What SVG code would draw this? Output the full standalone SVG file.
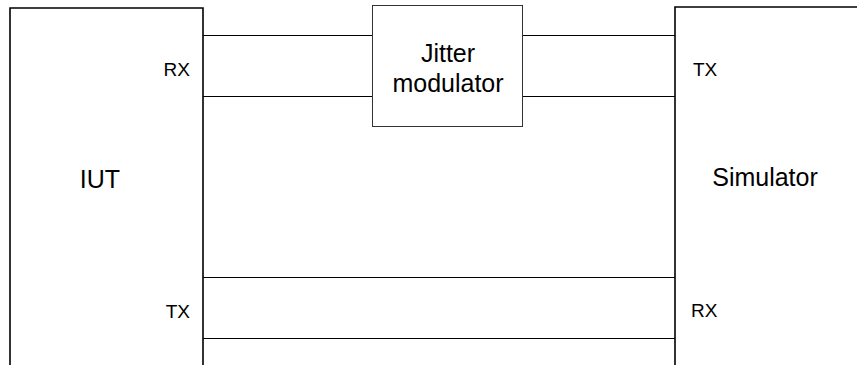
<svg xmlns="http://www.w3.org/2000/svg" width="857" height="365" viewBox="0 0 857 365">
<style>
.box{fill:#fff;stroke:#000;stroke-width:1.6}
.jbox{fill:#fff;stroke:#333;stroke-width:1}
.ln{stroke:#000;stroke-width:1;fill:none}
text{font-family:"Liberation Sans",Arial,sans-serif;fill:#000}
.big{font-size:25px}
.sm{font-size:19px}
</style>
<rect width="857" height="365" fill="#fff"/>
<g id="connectors">
<line class="ln" x1="203" y1="35.5" x2="372" y2="35.5"/>
<line class="ln" x1="203" y1="96.5" x2="372" y2="96.5"/>
<line class="ln" x1="523" y1="35.5" x2="675" y2="35.5"/>
<line class="ln" x1="523" y1="96.5" x2="675" y2="96.5"/>
<line class="ln" x1="203" y1="277.5" x2="675" y2="277.5"/>
<line class="ln" x1="203" y1="338.5" x2="675" y2="338.5"/>
</g>
<g id="iut">
<path class="box" d="M10,370 V8 H203 V370"/>
<text class="big" x="100" y="188" text-anchor="middle">IUT</text>
<text class="sm" x="190" y="76" text-anchor="end">RX</text>
<text class="sm" x="190" y="318" text-anchor="end">TX</text>
</g>
<g id="jitter">
<rect class="jbox" x="372.5" y="5.5" width="150" height="121"/>
<text class="big" x="448" y="62" text-anchor="middle">Jitter</text>
<text class="big" x="448" y="92" text-anchor="middle">modulator</text>
</g>
<g id="simulator">
<path class="box" d="M675,370 V7 H870"/>
<text class="big" x="765" y="186" text-anchor="middle">Simulator</text>
<text class="sm" x="693" y="76">TX</text>
<text class="sm" x="691" y="317">RX</text>
</g>
</svg>
